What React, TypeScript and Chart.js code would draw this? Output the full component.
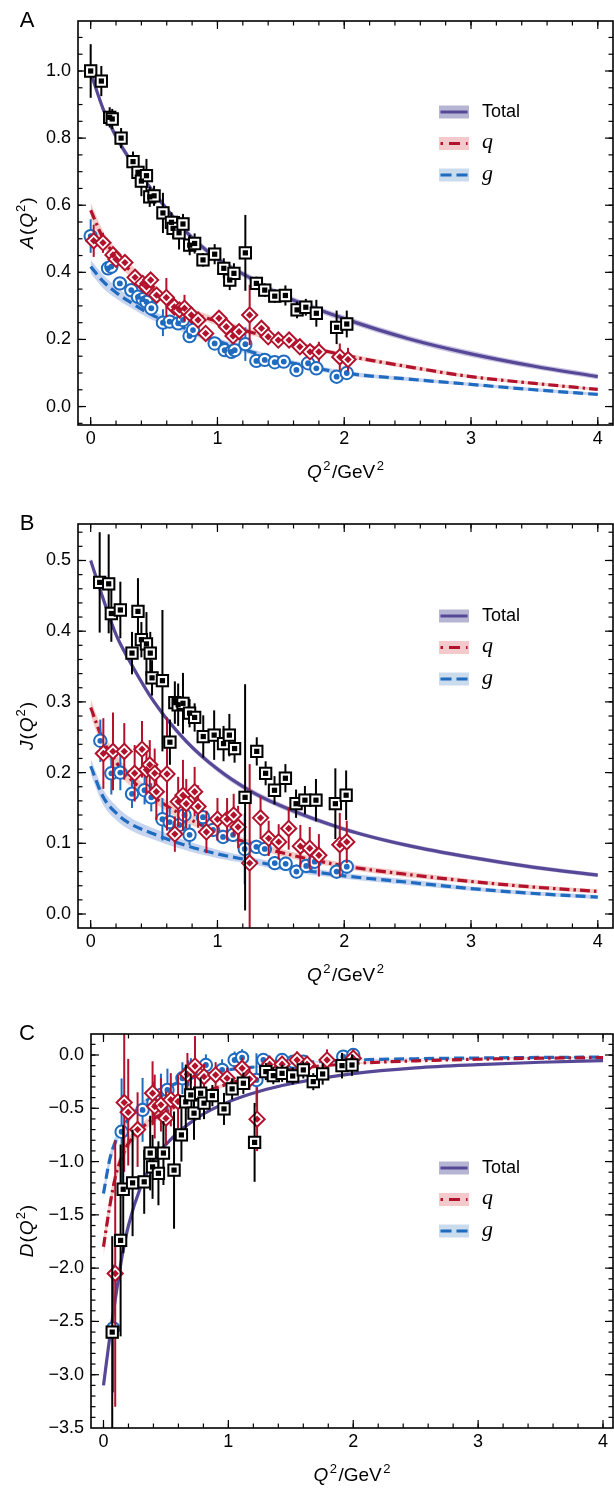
import React, { useEffect, useRef } from 'react';
import { Chart, registerables } from 'chart.js';
Chart.register(...registerables);

const SANS = '"Liberation Sans", Arial, Helvetica, sans-serif';
const SERIF = '"Liberation Serif", "DejaVu Serif", serif';
const W = 614;

const BLACK = '#000000';
const RED = '#b3122c';
const BLUE = '#1e6bc0';
const PURPLE = '#574897';
const BAND_TOT = 'rgba(110,100,175,0.38)';
const BAND_Q = 'rgba(228,140,130,0.45)';
const BAND_G = 'rgba(130,160,220,0.45)';
const SW_TOT = '#b6b6d4';
const SW_Q = '#f3c9cc';
const SW_G = '#cbdbee';

// ---------- tick labels ----------
const X_TICKS = [0, 1, 2, 3, 4];
const A_TICKS = [0, 0.2, 0.4, 0.6, 0.8, 1.0];
const B_TICKS = [0, 0.1, 0.2, 0.3, 0.4, 0.5];
const C_TICKS = [0, -0.5, -1, -1.5, -2, -2.5, -3, -3.5];

// ---------- model curves ----------
const CURVE_X_AB = [0, 0.1, 0.2, 0.3, 0.5, 0.75, 1, 1.25, 1.5, 2, 2.5, 3, 3.5, 4];
const A_TOT_C = [0.995, 0.885, 0.805, 0.742, 0.637, 0.522, 0.44, 0.385, 0.333, 0.262, 0.203, 0.157, 0.12, 0.089];
const A_Q_C = [0.585, 0.5, 0.45, 0.41, 0.347, 0.288, 0.253, 0.223, 0.198, 0.153, 0.119, 0.089, 0.069, 0.051];
const A_G_C = [0.417, 0.372, 0.34, 0.314, 0.27, 0.232, 0.195, 0.165, 0.138, 0.1, 0.082, 0.066, 0.05, 0.036];
const A_TOT_BAND = [0.012, 0.012, 0.012, 0.011, 0.01, 0.01, 0.009, 0.009, 0.009, 0.009, 0.009, 0.009, 0.008, 0.008];
const A_Q_BAND = [0.022, 0.022, 0.021, 0.019, 0.016, 0.013, 0.011, 0.009, 0.008, 0.007, 0.006, 0.005, 0.005, 0.004];
const A_G_BAND = [0.02, 0.02, 0.018, 0.016, 0.014, 0.012, 0.01, 0.009, 0.008, 0.007, 0.006, 0.005, 0.005, 0.004];

const B_TOT_C = [0.5, 0.445, 0.395, 0.36, 0.3, 0.245, 0.205, 0.175, 0.153, 0.12, 0.097, 0.08, 0.066, 0.055];
const B_Q_C = [0.292, 0.245, 0.215, 0.193, 0.165, 0.137, 0.116, 0.1, 0.087, 0.068, 0.056, 0.046, 0.038, 0.032];
const B_G_C = [0.209, 0.165, 0.143, 0.129, 0.113, 0.097, 0.085, 0.076, 0.067, 0.054, 0.045, 0.036, 0.029, 0.024];
const B_TOT_BAND = [0.005, 0.005, 0.005, 0.005, 0.004, 0.004, 0.004, 0.004, 0.004, 0.003, 0.003, 0.003, 0.003, 0.003];
const B_Q_BAND = [0.012, 0.012, 0.011, 0.01, 0.008, 0.007, 0.006, 0.005, 0.005, 0.004, 0.004, 0.003, 0.003, 0.003];
const B_G_BAND = [0.011, 0.011, 0.01, 0.009, 0.008, 0.007, 0.006, 0.005, 0.005, 0.004, 0.004, 0.003, 0.003, 0.003];

const CURVE_X_C = [0, 0.05, 0.1, 0.15, 0.2, 0.3, 0.4, 0.5, 0.75, 1, 1.25, 1.5, 2, 2.5, 3, 3.5, 4];
const C_TOT_C = [-3.1, -2.65, -2.25, -1.88, -1.6, -1.23, -1.0, -0.84, -0.59, -0.44, -0.34, -0.27, -0.175, -0.12, -0.09, -0.068, -0.053];
const C_Q_C = [-1.8, -1.42, -1.12, -0.95, -0.83, -0.69, -0.6, -0.53, -0.38, -0.27, -0.19, -0.135, -0.08, -0.055, -0.04, -0.03, -0.025];
const C_G_C = [-1.3, -0.98, -0.8, -0.68, -0.6, -0.48, -0.38, -0.31, -0.2, -0.14, -0.108, -0.08, -0.048, -0.035, -0.028, -0.023, -0.02];
const C_TOT_BAND = [0.04, 0.04, 0.035, 0.03, 0.028, 0.025, 0.022, 0.02, 0.016, 0.013, 0.011, 0.01, 0.008, 0.007, 0.006, 0.005, 0.005];
const C_Q_BAND = [0.09, 0.08, 0.07, 0.06, 0.055, 0.045, 0.038, 0.032, 0.022, 0.016, 0.012, 0.01, 0.008, 0.006, 0.005, 0.004, 0.004];
const C_G_BAND = [0.06, 0.055, 0.05, 0.045, 0.04, 0.033, 0.028, 0.024, 0.017, 0.012, 0.01, 0.008, 0.006, 0.005, 0.004, 0.004, 0.003];

// ---------- lattice points: panel A ----------
const A_TOT_X = [0, 0.084, 0.15, 0.17, 0.24, 0.334, 0.373, 0.4, 0.44, 0.466, 0.5, 0.57, 0.637, 0.65, 0.697, 0.728, 0.781, 0.82, 0.886, 0.978, 1.05, 1.097, 1.13, 1.22, 1.307, 1.373, 1.452, 1.536, 1.628, 1.697, 1.78, 1.94, 2.02];
const A_TOT_Y = [1.0, 0.97, 0.862, 0.857, 0.8, 0.73, 0.698, 0.672, 0.688, 0.625, 0.628, 0.577, 0.549, 0.531, 0.518, 0.544, 0.481, 0.486, 0.437, 0.454, 0.412, 0.377, 0.397, 0.458, 0.367, 0.347, 0.329, 0.331, 0.288, 0.296, 0.278, 0.236, 0.246];
const A_TOT_E = [0.08, 0.045, 0.03, 0.03, 0.03, 0.03, 0.04, 0.045, 0.05, 0.03, 0.03, 0.06, 0.03, 0.03, 0.05, 0.03, 0.03, 0.03, 0.02, 0.03, 0.03, 0.03, 0.03, 0.113, 0.02, 0.02, 0.02, 0.03, 0.025, 0.025, 0.04, 0.05, 0.04];

const A_Q_X = [0.024, 0.097, 0.176, 0.2, 0.27, 0.35, 0.41, 0.44, 0.473, 0.52, 0.597, 0.66, 0.7, 0.74, 0.794, 0.847, 0.907, 1.012, 1.07, 1.123, 1.17, 1.254, 1.347, 1.4, 1.48, 1.565, 1.65, 1.73, 1.8, 1.965, 2.03];
const A_Q_Y = [0.494, 0.488, 0.452, 0.439, 0.429, 0.385, 0.367, 0.357, 0.377, 0.332, 0.325, 0.297, 0.288, 0.293, 0.273, 0.258, 0.218, 0.263, 0.238, 0.21, 0.223, 0.273, 0.233, 0.208, 0.198, 0.198, 0.178, 0.163, 0.163, 0.148, 0.14];
const A_Q_E = [0.048, 0.03, 0.02, 0.02, 0.02, 0.02, 0.02, 0.02, 0.02, 0.02, 0.058, 0.02, 0.02, 0.04, 0.02, 0.02, 0.02, 0.02, 0.02, 0.02, 0.02, 0.09, 0.02, 0.02, 0.02, 0.02, 0.02, 0.02, 0.03, 0.04, 0.035];

const A_G_X = [0, 0.137, 0.163, 0.23, 0.32, 0.373, 0.41, 0.44, 0.478, 0.57, 0.623, 0.69, 0.728, 0.78, 0.807, 0.978, 1.057, 1.11, 1.136, 1.22, 1.307, 1.373, 1.452, 1.523, 1.623, 1.715, 1.78, 1.94, 2.02];
const A_G_Y = [0.508, 0.412, 0.417, 0.367, 0.347, 0.327, 0.32, 0.312, 0.293, 0.25, 0.253, 0.248, 0.258, 0.21, 0.228, 0.188, 0.168, 0.163, 0.168, 0.186, 0.136, 0.139, 0.132, 0.134, 0.109, 0.129, 0.114, 0.089, 0.1];
const A_G_E = [0.05, 0.015, 0.015, 0.015, 0.015, 0.015, 0.015, 0.015, 0.015, 0.04, 0.015, 0.015, 0.015, 0.015, 0.015, 0.015, 0.015, 0.015, 0.015, 0.05, 0.015, 0.015, 0.015, 0.015, 0.015, 0.015, 0.015, 0.015, 0.015];

// ---------- lattice points: panel B ----------
const B_TOT_X = [0.071, 0.142, 0.163, 0.234, 0.326, 0.373, 0.4, 0.44, 0.47, 0.484, 0.566, 0.625, 0.664, 0.69, 0.728, 0.78, 0.82, 0.888, 0.974, 1.048, 1.094, 1.135, 1.218, 1.31, 1.38, 1.45, 1.536, 1.62, 1.69, 1.777, 1.93, 2.015];
const B_TOT_Y = [0.469, 0.467, 0.425, 0.43, 0.369, 0.428, 0.388, 0.382, 0.369, 0.334, 0.33, 0.243, 0.299, 0.296, 0.298, 0.284, 0.278, 0.251, 0.253, 0.241, 0.253, 0.234, 0.165, 0.23, 0.199, 0.175, 0.192, 0.156, 0.161, 0.161, 0.156, 0.168];
const B_TOT_E = [0.071, 0.07, 0.04, 0.04, 0.03, 0.047, 0.025, 0.045, 0.03, 0.025, 0.1, 0.032, 0.03, 0.03, 0.043, 0.02, 0.02, 0.03, 0.035, 0.025, 0.03, 0.02, 0.16, 0.02, 0.017, 0.02, 0.02, 0.02, 0.02, 0.03, 0.05, 0.035];

const B_Q_X = [0.1, 0.176, 0.265, 0.347, 0.405, 0.44, 0.466, 0.505, 0.518, 0.602, 0.664, 0.69, 0.728, 0.754, 0.82, 0.847, 0.913, 1.0, 1.076, 1.128, 1.163, 1.254, 1.34, 1.404, 1.483, 1.562, 1.654, 1.728, 1.8, 1.965, 2.02];
const B_Q_Y = [0.227, 0.23, 0.23, 0.199, 0.233, 0.204, 0.211, 0.199, 0.173, 0.198, 0.113, 0.159, 0.168, 0.156, 0.173, 0.152, 0.116, 0.134, 0.134, 0.14, 0.123, 0.072, 0.136, 0.107, 0.102, 0.121, 0.096, 0.093, 0.083, 0.098, 0.102];
const B_Q_E = [0.05, 0.055, 0.04, 0.04, 0.04, 0.035, 0.035, 0.035, 0.04, 0.08, 0.025, 0.035, 0.05, 0.035, 0.035, 0.03, 0.03, 0.03, 0.03, 0.03, 0.03, 0.14, 0.03, 0.025, 0.025, 0.03, 0.03, 0.03, 0.03, 0.045, 0.03];

const B_G_X = [0.076, 0.163, 0.234, 0.326, 0.425, 0.478, 0.566, 0.623, 0.7, 0.74, 0.78, 0.886, 0.965, 1.044, 1.123, 1.215, 1.307, 1.373, 1.452, 1.538, 1.623, 1.7, 1.767, 1.94, 2.02];
const B_G_Y = [0.245, 0.199, 0.2, 0.17, 0.175, 0.165, 0.134, 0.13, 0.126, 0.14, 0.112, 0.137, 0.119, 0.109, 0.112, 0.092, 0.095, 0.092, 0.072, 0.071, 0.06, 0.068, 0.074, 0.06, 0.067];
const B_G_E = [0.03, 0.03, 0.025, 0.02, 0.02, 0.02, 0.03, 0.02, 0.015, 0.015, 0.015, 0.015, 0.01, 0.01, 0.01, 0.05, 0.01, 0.01, 0.01, 0.01, 0.01, 0.01, 0.01, 0.01, 0.01];

// ---------- lattice points: panel C ----------
const C_TOT_X = [0.07, 0.137, 0.158, 0.233, 0.326, 0.374, 0.393, 0.44, 0.48, 0.565, 0.624, 0.659, 0.699, 0.725, 0.778, 0.805, 0.872, 0.965, 1.03, 1.12, 1.21, 1.3, 1.36, 1.43, 1.515, 1.6, 1.68, 1.755, 1.91, 1.99];
const C_TOT_Y = [-2.6, -1.74, -1.26, -1.2, -1.19, -0.92, -1.05, -1.11, -0.92, -1.08, -0.75, -0.44, -0.375, -0.546, -0.359, -0.452, -0.381, -0.506, -0.318, -0.265, -0.82, -0.156, -0.194, -0.172, -0.197, -0.14, -0.25, -0.178, -0.1, -0.094];
const C_TOT_E = [0.9, 0.9, 0.6, 0.5, 0.3, 0.35, 0.3, 0.3, 0.3, 0.55, 0.25, 0.35, 0.2, 0.25, 0.15, 0.15, 0.1, 0.15, 0.1, 0.1, 0.37, 0.08, 0.08, 0.08, 0.08, 0.08, 0.08, 0.1, 0.12, 0.1];

const C_Q_X = [0.094, 0.166, 0.198, 0.273, 0.393, 0.41, 0.46, 0.5, 0.539, 0.597, 0.672, 0.733, 0.805, 0.898, 0.99, 1.11, 1.17, 1.23, 1.33, 1.43, 1.55, 1.63, 1.79, 2.0];
const C_Q_Y = [-2.05, -0.446, -0.537, -0.7, -0.359, -0.484, -0.468, -0.593, -0.42, -0.437, -0.181, -0.103, -0.203, -0.187, -0.218, -0.125, -0.225, -0.602, -0.087, -0.087, -0.047, -0.087, -0.047, -0.03];
const C_Q_E = [1.25, 0.65, 0.5, 0.35, 0.3, 0.3, 0.25, 0.25, 0.25, 0.25, 0.2, 0.28, 0.12, 0.12, 0.1, 0.1, 0.1, 0.3, 0.08, 0.08, 0.08, 0.08, 0.1, 0.08];

const C_G_X = [0.078, 0.145, 0.313, 0.4, 0.46, 0.512, 0.632, 0.68, 0.7, 0.82, 0.95, 1.05, 1.11, 1.225, 1.28, 1.43, 1.52, 1.6, 1.92, 2.0];
const C_G_Y = [-2.566, -0.72, -0.515, -0.45, -0.375, -0.328, -0.218, -0.17, -0.15, -0.094, -0.14, -0.047, -0.025, -0.234, -0.047, -0.047, -0.062, -0.062, -0.016, 0.0];
const C_G_E = [0.6, 0.5, 0.3, 0.2, 0.2, 0.2, 0.15, 0.12, 0.12, 0.1, 0.1, 0.08, 0.08, 0.25, 0.06, 0.06, 0.06, 0.06, 0.06, 0.06];

// ---------- panel layout ----------
interface Series { x: number[]; y: number[]; e: number[] }
interface PanelDef {
  letter: string; yVar: string;
  top: number; height: number;
  left: number; areaTop: number; areaBottom: number;
  xMin: number; xMax: number; yMin: number; yMax: number;
  yTicks: number[]; yMinorStep: number;
  cx: number[]; tot: number[]; q: number[]; g: number[];
  bTot: number[]; bQ: number[]; bG: number[];
  sTot: Series; sQ: Series; sG: Series;
  legendTop: number;
}

const PANELS: PanelDef[] = [
  {
    letter: 'A', yVar: 'A', top: 0, height: 495, left: 78, areaTop: 21, areaBottom: 425,
    xMin: -0.1, xMax: 4.12, yMin: -0.055, yMax: 1.149, yTicks: A_TICKS, yMinorStep: 0.05,
    cx: CURVE_X_AB, tot: A_TOT_C, q: A_Q_C, g: A_G_C, bTot: A_TOT_BAND, bQ: A_Q_BAND, bG: A_G_BAND,
    sTot: { x: A_TOT_X, y: A_TOT_Y, e: A_TOT_E }, sQ: { x: A_Q_X, y: A_Q_Y, e: A_Q_E }, sG: { x: A_G_X, y: A_G_Y, e: A_G_E },
    legendTop: 91,
  },
  {
    letter: 'B', yVar: 'J', top: 495, height: 500, left: 78, areaTop: 29, areaBottom: 433,
    xMin: -0.1, xMax: 4.12, yMin: -0.0198, yMax: 0.5516, yTicks: B_TICKS, yMinorStep: 0.02,
    cx: CURVE_X_AB, tot: B_TOT_C, q: B_Q_C, g: B_G_C, bTot: B_TOT_BAND, bQ: B_Q_BAND, bG: B_G_BAND,
    sTot: { x: B_TOT_X, y: B_TOT_Y, e: B_TOT_E }, sQ: { x: B_Q_X, y: B_Q_Y, e: B_Q_E }, sG: { x: B_G_X, y: B_G_Y, e: B_G_E },
    legendTop: 92,
  },
  {
    letter: 'C', yVar: 'D', top: 995, height: 493, left: 91, areaTop: 39, areaBottom: 433,
    xMin: -0.1, xMax: 4.08, yMin: -3.5, yMax: 0.197, yTicks: C_TICKS, yMinorStep: 0.1,
    cx: CURVE_X_C, tot: C_TOT_C, q: C_Q_C, g: C_G_C, bTot: C_TOT_BAND, bQ: C_Q_BAND, bG: C_G_BAND,
    sTot: { x: C_TOT_X, y: C_TOT_Y, e: C_TOT_E }, sQ: { x: C_Q_X, y: C_Q_Y, e: C_Q_E }, sG: { x: C_G_X, y: C_G_Y, e: C_G_E },
    legendTop: 134,
  },
];

const X_MINOR_STEP = 0.2;
const Q_DASH = [10, 4, 2.5, 4];
const G_DASH = [10, 5];

function minorVals(min: number, max: number, step: number) {
  const out: number[] = [];
  const k0 = Math.ceil(min / step - 1e-9);
  const k1 = Math.floor(max / step + 1e-9);
  for (let k = k0; k <= k1; k++) out.push(+(k * step).toFixed(6));
  return out;
}

type Part = { t: string; it?: boolean; sup?: boolean };
function drawParts(ctx: CanvasRenderingContext2D, parts: Part[], size: number, cx: number, base: number, gap: number) {
  const fontOf = (p: Part) => `${p.it ? 'italic ' : ''}${p.sup ? Math.round(size * 0.68) : size}px ${SANS}`;
  const widths = parts.map((p) => { ctx.font = fontOf(p); return ctx.measureText(p.t).width; });
  const total = widths.reduce((a, b) => a + b, 0) + gap * (parts.length - 1);
  let x = cx - total / 2;
  ctx.textAlign = 'left';
  ctx.textBaseline = 'alphabetic';
  parts.forEach((p, i) => {
    ctx.font = fontOf(p);
    ctx.fillText(p.t, x, p.sup ? base - size * 0.42 : base);
    x += widths[i] + gap;
  });
}

function fmtY(v: number) {
  const s = Math.abs(v).toFixed(1);
  return v < -1e-9 ? '\u2212' + s : s;
}

function buildConfig(p: PanelDef): any {
  const pts = (xs: number[], ys: number[]) => xs.map((x, i) => ({ x, y: ys[i] }));
  const band = (xs: number[], ys: number[], hw: number[], s: number) => xs.map((x, i) => ({ x, y: ys[i] + s * hw[i] }));
  const lineBase = { type: 'line', pointRadius: 0, cubicInterpolationMode: 'monotone', fill: false };

  const bandSets = (ys: number[], hw: number[], color: string) => [
    { ...lineBase, data: band(p.cx, ys, hw, 1), borderWidth: 0, borderColor: 'rgba(0,0,0,0)', order: 100 },
    { ...lineBase, data: band(p.cx, ys, hw, -1), borderWidth: 0, borderColor: 'rgba(0,0,0,0)', fill: '-1', backgroundColor: color, order: 100 },
  ];

  const markers = (s: Series, kind: 'sq' | 'di' | 'ci', baseOrder: number) => {
    const data = pts(s.x, s.y);
    const style = kind === 'sq' ? 'rect' : kind === 'di' ? 'rectRot' : 'circle';
    const col = kind === 'sq' ? BLACK : kind === 'di' ? RED : BLUE;
    const outerR = kind === 'sq' ? 8 : kind === 'di' ? 7.6 : 6.2;
    const innerR = kind === 'sq' ? 3.7 : kind === 'di' ? 3.7 : 2.9;
    const sets: any[] = [
      { type: 'scatter', data, errs: s.e, errColor: col, pointStyle: style, pointRadius: outerR, pointBackgroundColor: '#ffffff', pointBorderColor: col, pointBorderWidth: 2, order: baseOrder + 1 },
      { type: 'scatter', data, pointStyle: style, pointRadius: innerR, pointBackgroundColor: col, pointBorderColor: col, pointBorderWidth: 0, order: baseOrder },
    ];
    if (kind === 'sq') {
      sets.push({ type: 'scatter', data, pointStyle: 'rect', pointRadius: 9.3, pointBackgroundColor: 'rgba(150,150,150,0.55)', pointBorderWidth: 0, order: baseOrder + 2 });
    }
    return sets;
  };

  const datasets = [
    ...bandSets(p.tot, p.bTot, BAND_TOT),
    ...bandSets(p.q, p.bQ, BAND_Q),
    ...bandSets(p.g, p.bG, BAND_G),
    { ...lineBase, data: pts(p.cx, p.tot), borderColor: PURPLE, borderWidth: 3.2, order: 50 },
    { ...lineBase, data: pts(p.cx, p.q), borderColor: RED, borderWidth: 3.2, borderDash: Q_DASH, order: 50 },
    { ...lineBase, data: pts(p.cx, p.g), borderColor: BLUE, borderWidth: 3.2, borderDash: G_DASH, order: 50 },
    ...markers(p.sG, 'ci', 30),
    ...markers(p.sQ, 'di', 20),
    ...markers(p.sTot, 'sq', 10),
  ];

  const errPlugin = {
    id: 'errbars',
    beforeDatasetDraw(chart: any, args: any) {
      const ds: any = chart.data.datasets[args.index];
      if (!ds.errs) return;
      const { ctx, chartArea: a } = chart;
      const xs = chart.scales.x, ys = chart.scales.y;
      ctx.save();
      ctx.beginPath();
      ctx.rect(a.left, a.top, a.right - a.left, a.bottom - a.top);
      ctx.clip();
      ctx.strokeStyle = ds.errColor;
      ctx.lineWidth = 2;
      ds.data.forEach((pt: any, i: number) => {
        const px = xs.getPixelForValue(pt.x);
        ctx.beginPath();
        ctx.moveTo(px, ys.getPixelForValue(pt.y - ds.errs[i]));
        ctx.lineTo(px, ys.getPixelForValue(pt.y + ds.errs[i]));
        ctx.stroke();
      });
      ctx.restore();
    },
  };

  const decoPlugin = {
    id: 'deco',
    afterDatasetsDraw(chart: any) {
      const { ctx, chartArea: a } = chart;
      const xs = chart.scales.x, ys = chart.scales.y;
      ctx.save();
      const tick = (x1: number, y1: number, x2: number, y2: number) => {
        ctx.beginPath(); ctx.moveTo(x1, y1); ctx.lineTo(x2, y2); ctx.stroke();
      };
      ctx.strokeStyle = '#000';
      ctx.lineWidth = 1.2;
      const xDraw = (vals: number[], len: number) => vals.forEach((v) => {
        const px = xs.getPixelForValue(v);
        if (px < a.left + 1 || px > a.right - 1) return;
        tick(px, a.bottom, px, a.bottom - len);
        tick(px, a.top, px, a.top + len);
      });
      const yDraw = (vals: number[], len: number) => vals.forEach((v) => {
        const py = ys.getPixelForValue(v);
        if (py < a.top + 1 || py > a.bottom - 1) return;
        tick(a.left, py, a.left + len, py);
        tick(a.right, py, a.right - len, py);
      });
      xDraw(minorVals(p.xMin, p.xMax, X_MINOR_STEP), 4.5);
      xDraw(X_TICKS, 8);
      yDraw(minorVals(p.yMin, p.yMax, p.yMinorStep), 4.5);
      yDraw(p.yTicks, 8);
      ctx.lineWidth = 1.6;
      ctx.strokeRect(a.left, a.top, a.right - a.left, a.bottom - a.top);
      ctx.restore();
    },
    afterDraw(chart: any) {
      const { ctx, chartArea: a } = chart;
      ctx.save();
      ctx.fillStyle = '#000';
      ctx.font = `22px ${SANS}`;
      ctx.textAlign = 'center';
      ctx.textBaseline = 'middle';
      ctx.fillText(p.letter, 27, a.top);
      drawParts(ctx, [{ t: 'Q', it: true }, { t: '2', sup: true }, { t: '/GeV' }, { t: '2', sup: true }], 19, (a.left + a.right) / 2, a.bottom + 53, 1.5);
      ctx.save();
      ctx.translate(33, (a.top + a.bottom) / 2);
      ctx.rotate(-Math.PI / 2);
      drawParts(ctx, [{ t: p.yVar, it: true }, { t: '(' }, { t: 'Q', it: true }, { t: '2', sup: true }, { t: ')' }], 19, 0, 0, 1);
      ctx.restore();
      const rows = [
        { sw: SW_TOT, col: PURPLE, dash: [] as number[], label: 'Total', font: `18px ${SANS}` },
        { sw: SW_Q, col: RED, dash: [2.5, 6, 11, 6, 2.5], label: 'q', font: `italic 22px ${SERIF}` },
        { sw: SW_G, col: BLUE, dash: [11, 5], label: 'g', font: `italic 22px ${SERIF}` },
      ];
      const x0 = 439, x1 = 469, tx = 482;
      rows.forEach((r, i) => {
        const cy = a.top + p.legendTop + i * 31.5;
        ctx.fillStyle = r.sw;
        ctx.fillRect(x0, cy - 6.5, x1 - x0, 13);
        ctx.strokeStyle = r.col;
        ctx.lineWidth = 3;
        ctx.setLineDash(r.dash);
        ctx.beginPath();
        ctx.moveTo(x0 + 1.5, cy);
        ctx.lineTo(x1 - 1.5, cy);
        ctx.stroke();
        ctx.setLineDash([]);
        ctx.fillStyle = '#000';
        ctx.font = r.font;
        ctx.textAlign = 'left';
        ctx.textBaseline = 'middle';
        ctx.fillText(r.label, tx, cy + (i === 0 ? 0 : -1));
      });
      ctx.restore();
    },
  };

  return {
    type: 'scatter',
    data: { datasets },
    options: {
      responsive: false,
      animation: false,
      devicePixelRatio: 1,
      events: [],
      layout: { autoPadding: false, padding: { top: p.areaTop, right: 1, left: 0, bottom: 0 } },
      plugins: { legend: { display: false }, tooltip: { enabled: false }, title: { display: false } },
      scales: {
        x: {
          type: 'linear', min: p.xMin, max: p.xMax,
          grid: { display: false, drawTicks: false }, border: { display: false },
          afterBuildTicks: (s: any) => { s.ticks = X_TICKS.map((v) => ({ value: v })); },
          afterFit: (s: any) => { s.height = p.height - p.areaBottom; },
          ticks: { color: '#000', font: { family: SANS, size: 18 }, padding: 3, maxRotation: 0, callback: (v: any) => String(v) },
        },
        y: {
          type: 'linear', min: p.yMin, max: p.yMax,
          grid: { display: false, drawTicks: false }, border: { display: false },
          afterBuildTicks: (s: any) => { s.ticks = p.yTicks.map((v) => ({ value: v })); },
          afterFit: (s: any) => { s.width = p.left; },
          ticks: { color: '#000', font: { family: SANS, size: 18 }, padding: 7, callback: (v: any) => fmtY(Number(v)) },
        },
      },
    },
    plugins: [errPlugin, decoPlugin],
  };
}

function Panel({ def }: { def: PanelDef }) {
  const ref = useRef<HTMLCanvasElement>(null);
  useEffect(() => {
    const chart = new Chart(ref.current as HTMLCanvasElement, buildConfig(def));
    return () => chart.destroy();
  }, [def]);
  return (
    <canvas
      ref={ref}
      width={W}
      height={def.height}
      style={{ position: 'absolute', left: 0, top: def.top, width: W, height: def.height, display: 'block' }}
    />
  );
}

export default function App() {
  return (
    <div style={{ position: 'absolute', left: 0, top: 0, width: W, height: 1488, background: '#fff', overflow: 'hidden' }}>
      {PANELS.map((d) => <Panel key={d.letter} def={d} />)}
    </div>
  );
}
